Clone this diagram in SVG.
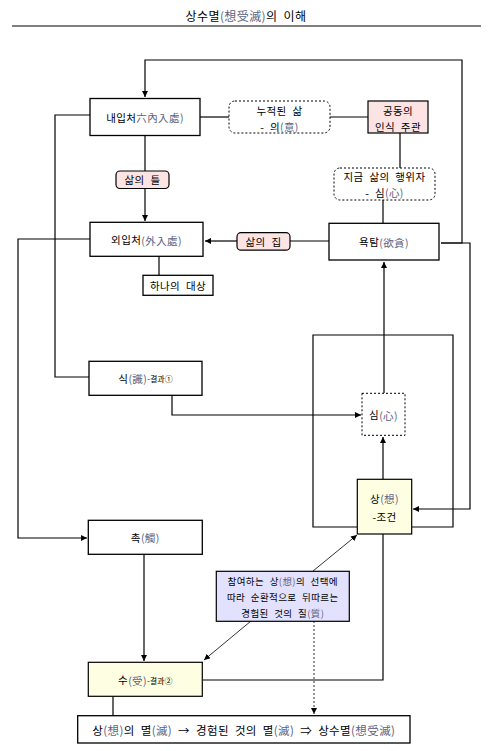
<svg xmlns="http://www.w3.org/2000/svg" width="493" height="751" viewBox="0 0 493 751">
<defs>
<marker id="ah" viewBox="0 0 10 10" refX="10" refY="5" markerWidth="6" markerHeight="6" orient="auto" markerUnits="userSpaceOnUse">
<path d="M0,0 L10,5 L0,10 z" fill="#000"/>
</marker>
</defs>
<style>
text{font-family:"Noto Sans CJK KR","Noto Sans",sans-serif;font-size:10.5px;fill:#000;text-anchor:middle;dominant-baseline:central;letter-spacing:0.4px;word-spacing:3px}
.h{fill:#5b6382}
.s{font-size:8px;letter-spacing:0}
.box{fill:#fff;stroke:#000;stroke-width:1.3}
.pink{fill:#fde4e4;stroke:#000;stroke-width:1.2}
.yel{fill:#fefee2;stroke:#000;stroke-width:1.2}
.blue{fill:#e2e2ff;stroke:#000;stroke-width:1.2}
.dot{fill:#fff;stroke:#000;stroke-width:1;stroke-dasharray:2 2}
.ln{fill:none;stroke:#000;stroke-width:1.2}
.thin{fill:none;stroke:#000;stroke-width:0.8}
</style>
<rect width="493" height="751" fill="#fff"/>
<g id="title">
<text x="246" y="15" style="font-size:12px">상수멸<tspan class="h">(想受滅)</tspan>의 이해</text>
<line x1="12" y1="26" x2="481" y2="26" stroke="#000" stroke-width="1"/>
</g>
<g id="connectors">
<polyline class="ln" points="441,243 462,243 462,60 145,60 145,97" marker-end="url(#ah)"/>
<polyline class="ln" points="441,243 470,243 470,509 413,509" marker-end="url(#ah)"/>
<polyline class="ln" points="90,115 55,115 55,377 89,377"/>
<line class="ln" x1="200" y1="117" x2="229" y2="117"/>
<line class="ln" x1="330" y1="117" x2="368" y2="117"/>
<line class="ln" x1="400" y1="133" x2="400" y2="168"/>
<line class="ln" x1="145" y1="135" x2="145" y2="171"/>
<line class="ln" x1="145" y1="188" x2="145" y2="221" marker-end="url(#ah)"/>
<line class="ln" x1="237" y1="241" x2="205" y2="241" marker-end="url(#ah)"/>
<line class="ln" x1="290" y1="241" x2="329" y2="241"/>
<line class="ln" x1="383" y1="200" x2="383" y2="223"/>
<polyline class="ln" points="90,239 18,239 18,538 87,538" marker-end="url(#ah)"/>
<line class="ln" x1="159" y1="256" x2="159" y2="275"/>
<line class="ln" x1="384" y1="393" x2="384" y2="262" marker-end="url(#ah)"/>
<polyline class="ln" points="357,527 313,527 313,335 453,335 453,527 412,527"/>
<polyline class="ln" points="172,395 172,415 361,415" marker-end="url(#ah)"/>
<line class="ln" x1="383" y1="479" x2="383" y2="437" marker-end="url(#ah)"/>
<line class="ln" x1="144" y1="554" x2="144" y2="661" marker-end="url(#ah)"/>
<line class="thin" x1="313" y1="571" x2="357" y2="535" marker-end="url(#ah)"/>
<line class="thin" x1="251" y1="621" x2="204" y2="660" marker-end="url(#ah)"/>
<line class="thin" x1="314" y1="621" x2="314" y2="714" stroke-dasharray="2 2" marker-end="url(#ah)"/>
<polyline class="ln" points="383,534 383,680 203,680"/>
<line class="ln" x1="113" y1="696" x2="113" y2="716"/>
</g>
<g id="n-naeip">
<rect class="box" x="90" y="98.5" width="110" height="37"/>
<text x="145" y="117">내입처<tspan class="h">六內入處)</tspan></text>
</g>
<g id="n-nujeok">
<rect class="dot" x="229" y="101" width="101" height="32" rx="6"/>
<text x="279.5" y="110">누적된 삶</text>
<text x="279.5" y="126">- 의<tspan class="h">(意)</tspan></text>
</g>
<g id="n-gongdong">
<rect class="pink" x="368" y="101" width="60" height="32"/>
<text x="398" y="110">공동의</text>
<text x="398" y="126">인식 주관</text>
</g>
<g id="n-teul">
<rect class="pink" x="116" y="171" width="53" height="17.5" rx="4"/>
<text x="142.5" y="179.7">삶의 틀</text>
</g>
<g id="n-jigeum">
<rect class="dot" x="334" y="168" width="101" height="32" rx="6"/>
<text x="384.5" y="176">지금 삶의 행위자</text>
<text x="384.5" y="192">- 심<tspan class="h">(心)</tspan></text>
</g>
<g id="n-oeip">
<rect class="box" x="90" y="222.3" width="113" height="34"/>
<text x="146.5" y="239.5">외입처<tspan class="h">(外入處)</tspan></text>
</g>
<g id="n-jip">
<rect class="pink" x="237" y="232.7" width="53" height="17.5" rx="4"/>
<text x="263.5" y="241.4">삶의 집</text>
</g>
<g id="n-yoktam">
<rect class="box" x="329" y="223.3" width="110" height="36.7"/>
<text x="384" y="241.5">욕탐<tspan class="h">(欲貪)</tspan></text>
</g>
<g id="n-daesang">
<rect class="box" x="143" y="275.3" width="70" height="20"/>
<text x="178" y="285.3">하나의 대상</text>
</g>
<g id="n-sik">
<rect class="box" x="89" y="361.3" width="113" height="34"/>
<text x="145.5" y="378.3">식<tspan class="h">(識)</tspan><tspan class="s">-결과①</tspan></text>
</g>
<g id="n-sim">
<rect class="dot" x="362" y="393.3" width="43" height="42"/>
<text x="383.5" y="414.5">심<tspan class="h">(心)</tspan></text>
</g>
<g id="n-sang">
<rect class="yel" x="357.3" y="479.3" width="54.4" height="54.7"/>
<text x="384.5" y="498">상<tspan class="h">(想)</tspan></text>
<text x="384.5" y="516">-조건</text>
</g>
<g id="n-chok">
<rect class="box" x="88.3" y="520.3" width="114" height="34"/>
<text x="145.3" y="537.3">촉<tspan class="h">(觸)</tspan></text>
</g>
<g id="n-jil">
<rect class="blue" x="216.3" y="571.3" width="133" height="50"/>
<text x="282.8" y="580.5" style="font-size:9.5px">참여하는 상<tspan class="h">(想)</tspan>의 선택에</text>
<text x="282.8" y="597" style="font-size:9.5px">따라 순환적으로 뒤따르는</text>
<text x="282.8" y="613" style="font-size:9.5px">경험된 것의 질<tspan class="h">(質)</tspan></text>
</g>
<g id="n-su">
<rect class="yel" x="88.3" y="662.3" width="114" height="34"/>
<text x="145.3" y="679.8">수<tspan class="h">(受)</tspan><tspan class="s">-결과②</tspan></text>
</g>
<g id="n-final">
<rect class="box" x="77.7" y="715.7" width="332.3" height="27.3"/>
<text x="243.8" y="729.5" style="font-size:11.5px">상<tspan class="h">(想)</tspan>의 멸<tspan class="h">(滅)</tspan> → 경험된 것의 멸<tspan class="h">(滅)</tspan> ⇒ 상수멸<tspan class="h">(想受滅)</tspan></text>
</g>
</svg>
